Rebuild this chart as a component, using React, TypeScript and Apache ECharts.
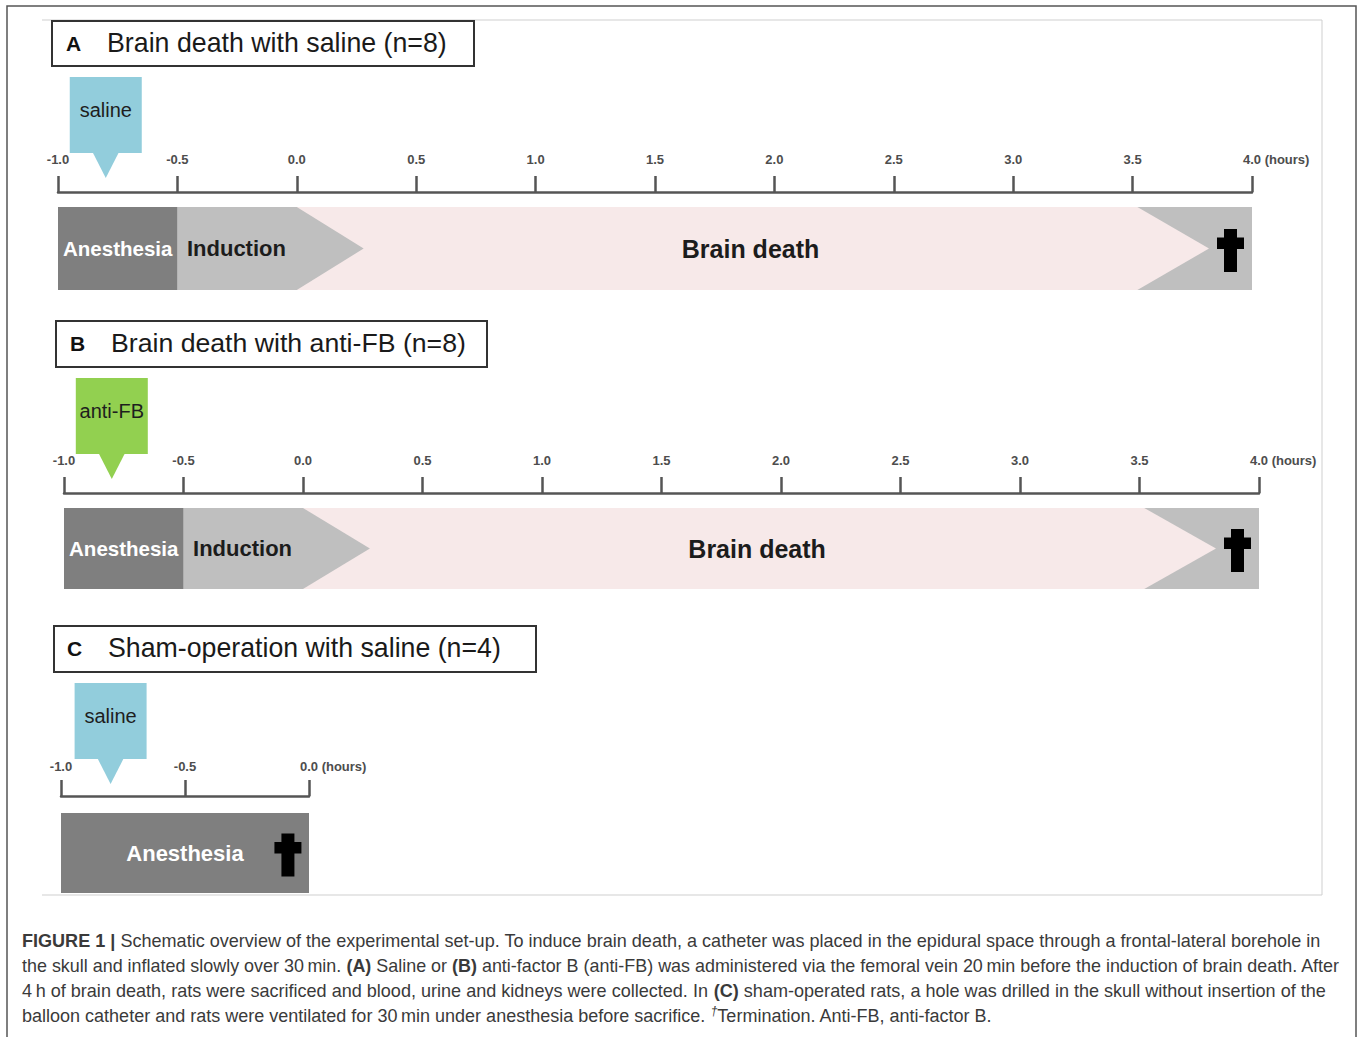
import React, { useEffect, useRef } from 'react';
import * as echarts from 'echarts';

// ---------------- DATA ----------------
const panelLetters = ['A', 'B', 'C'];
const panelTitles = [
  'Brain death with saline (n=8)',
  'Brain death with anti-FB (n=8)',
  'Sham-operation with saline (n=4)',
];
const axisMinHours = [-1.0, -1.0, -1.0];
const axisMaxHours = [4.0, 4.0, 0.0];
const tickStepHours = 0.5;
const axisUnit = '(hours)';

// brain-death protocol (panels A and B), hours
const phaseNamesBD = ['Anesthesia', 'Induction', 'Brain death', ''];
const phaseStartBD = [-1.0, -0.5, 0.0, 3.5];
const phaseEndBD = [-0.5, 0.0, 3.52, 4.0];
const phaseTipBD = [-0.5, 0.28, 3.82, 4.0];
const phaseLabelAtBD = [-0.75, -0.46, 1.9, 0];

// sham protocol (panel C), hours
const phaseNamesSham = ['Anesthesia'];
const phaseStartSham = [-1.0];
const phaseEndSham = [0.0];
const phaseTipSham = [0.0];
const phaseLabelAtSham = [-0.5];

const drugNames = ['saline', 'anti-FB', 'saline'];
const drugAtHours = [-0.8, -0.8, -0.8];
const terminationAtHours = [3.91, 3.91, -0.085];

const captionLines: [string, string][][] = [
  [
    ['b', 'FIGURE 1 |'],
    ['r', ' Schematic overview of the experimental set-up. To induce brain death, a catheter was placed in the epidural space through a frontal-lateral borehole in'],
  ],
  [
    ['r', 'the skull and inflated slowly over 30\u2009min. '],
    ['b', '(A)'],
    ['r', ' Saline or '],
    ['b', '(B)'],
    ['r', ' anti-factor B (anti-FB) was administered via the femoral vein 20\u2009min before the induction of brain death. After'],
  ],
  [
    ['r', '4\u2009h of brain death, rats were sacrificed and blood, urine and kidneys were collected. In '],
    ['b', '(C)'],
    ['r', ' sham-operated rats, a hole was drilled in the skull without insertion of the'],
  ],
  [
    ['r', 'balloon catheter and rats were ventilated for 30\u2009min under anesthesia before sacrifice. '],
    ['s', '\u2020'],
    ['r', 'Termination. Anti-FB, anti-factor B.'],
  ],
];

// ---------------- STYLE / LAYOUT ----------------
const FONT = '"Liberation Sans", Arial, Helvetica, sans-serif';
const NARROW = '"Liberation Sans Narrow", "Liberation Sans", Arial, sans-serif';
const AXIS_COLOR = '#555555';

const phaseStyleBD = [
  { fill: '#7f7f7f', color: '#ffffff', size: 20.5, weight: 'bold', align: 'center' },
  { fill: '#bfbfbf', color: '#1c1c1c', size: 22, weight: 'bold', align: 'left' },
  { fill: '#f7e9e9', color: '#1c1c1c', size: 25, weight: 'bold', align: 'center' },
  { fill: '#bfbfbf', color: '#1c1c1c', size: 22, weight: 'bold', align: 'center' },
];
const phaseStyleSham = [
  { fill: '#7f7f7f', color: '#ffffff', size: 22, weight: 'bold', align: 'center' },
];
const drugColors = ['#92cddc', '#92d050', '#92cddc'];

const panels = [
  { grid: { left: 58, top: 207, width: 1194, height: 83 }, axisOffset: 15, labelMargin: 26, box: { x: 52, y: 21, w: 422, h: 45 }, letterX: 66, titleX: 107, titleW: 340 },
  { grid: { left: 64, top: 508, width: 1195, height: 81 }, axisOffset: 15, labelMargin: 26, box: { x: 56, y: 321, w: 431, h: 46 }, letterX: 70, titleX: 111, titleW: 355 },
  { grid: { left: 61, top: 813, width: 248, height: 80 }, axisOffset: 17, labelMargin: 23, box: { x: 54, y: 626, w: 482, h: 46 }, letterX: 67, titleX: 108, titleW: 393 },
];

const captionX = 22;
const captionY = [941, 966, 991, 1016];
const captionTargetW = [1300, 1318, 1304, 971];

let measureCtx: CanvasRenderingContext2D | null = null;
function measure(text: string, font: string): number {
  if (!measureCtx) {
    const c = document.createElement('canvas');
    measureCtx = c.getContext('2d');
  }
  if (!measureCtx) return text.length * 8;
  measureCtx.font = font;
  return measureCtx.measureText(text).width;
}

const captionRich: any = {
  r: { fontSize: 18, fontFamily: NARROW, color: '#3a3a3a', lineHeight: 22 },
  b: { fontSize: 18, fontFamily: NARROW, fontWeight: 'bold', color: '#111111', lineHeight: 22 },
  s: { fontSize: 12, fontFamily: NARROW, fontStyle: 'italic', color: '#3a3a3a', lineHeight: 22, verticalAlign: 'top' },
};
function richFont(k: string) {
  const r = captionRich[k];
  return [r.fontStyle || 'normal', r.fontWeight || 'normal', r.fontSize + 'px', r.fontFamily].join(' ');
}

function phaseSeries(i: number, names: string[], starts: number[], ends: number[], tips: number[], labelAts: number[], styles: any[]) {
  const order = starts.map((_, k) => k).reverse();
  return {
    type: 'custom',
    xAxisIndex: i,
    yAxisIndex: i,
    silent: true,
    clip: false,
    data: order.map((k) => [starts[k], ends[k], tips[k], labelAts[k], k]),
    renderItem: (_params: any, api: any) => {
      const k = api.value(4);
      const pb = api.coord([api.value(0), 0]);
      const pe = api.coord([api.value(1), 1]);
      const xt = api.coord([api.value(2), 0])[0];
      const xs = pb[0];
      const yb = pb[1];
      const xe = pe[0];
      const yt = pe[1];
      const ym = (yt + yb) / 2;
      const st = styles[k];
      const children: any[] = [
        {
          type: 'polygon',
          shape: { points: [[xs, yt], [xe, yt], [xt, ym], [xe, yb], [xs, yb]] },
          style: { fill: st.fill },
        },
      ];
      if (names[k]) {
        const lx = api.coord([api.value(3), 0])[0];
        children.push({
          type: 'text',
          x: lx,
          y: ym,
          style: {
            text: names[k],
            fill: st.color,
            fontSize: st.size,
            fontWeight: st.weight,
            fontFamily: FONT,
            textAlign: st.align,
            align: st.align,
            textVerticalAlign: 'middle',
            verticalAlign: 'middle',
          },
        });
      }
      return { type: 'group', children };
    },
  };
}

function drugSeries(i: number) {
  return {
    type: 'custom',
    xAxisIndex: i,
    yAxisIndex: i,
    silent: true,
    clip: false,
    data: [[drugAtHours[i], 1]],
    renderItem: (_params: any, api: any) => {
      const p = api.coord([api.value(0), api.value(1)]);
      const x = p[0];
      const top = p[1];
      const fill = drugColors[i];
      return {
        type: 'group',
        children: [
          { type: 'rect', shape: { x: x - 36, y: top - 130, width: 72, height: 76 }, style: { fill } },
          { type: 'polygon', shape: { points: [[x - 13, top - 54.5], [x + 13, top - 54.5], [x, top - 29]] }, style: { fill } },
          {
            type: 'text',
            x,
            y: top - 97,
            style: {
              text: drugNames[i],
              fill: '#1e1e1e',
              fontSize: 20,
              fontFamily: FONT,
              textAlign: 'center',
              align: 'center',
              textVerticalAlign: 'middle',
              verticalAlign: 'middle',
            },
          },
        ],
      };
    },
  };
}

function crossSeries(i: number) {
  return {
    type: 'custom',
    xAxisIndex: i,
    yAxisIndex: i,
    silent: true,
    clip: false,
    data: [[terminationAtHours[i], 0.5]],
    renderItem: (_params: any, api: any) => {
      const p = api.coord([api.value(0), api.value(1)]);
      const x = p[0];
      const yc = p[1] + 2;
      return {
        type: 'group',
        children: [
          { type: 'rect', shape: { x: x - 6.5, y: yc - 21.5, width: 13, height: 43 }, style: { fill: '#000' } },
          { type: 'rect', shape: { x: x - 13.5, y: yc - 13, width: 27, height: 11.5 }, style: { fill: '#000' } },
        ],
      };
    },
  };
}

function buildOption() {
  const unitW = measure(' ' + axisUnit, `bold 13px ${FONT}`);
  const labelBase = { fontSize: 13, fontFamily: FONT, fontWeight: 'bold', color: '#4d4d4d' };

  const grid = panels.map((p) => ({ left: p.grid.left, top: p.grid.top, width: p.grid.width, height: p.grid.height }));
  const xAxis = panels.map((p, i) => ({
    type: 'value',
    gridIndex: i,
    min: axisMinHours[i],
    max: axisMaxHours[i],
    interval: tickStepHours,
    position: 'top',
    offset: p.axisOffset,
    axisLine: { show: true, onZero: false, lineStyle: { color: AXIS_COLOR, width: 2.5 } },
    axisTick: { show: true, inside: false, length: 16, lineStyle: { color: AXIS_COLOR, width: 2.5 } },
    splitLine: { show: false },
    axisLabel: {
      show: true,
      interval: 0,
      margin: p.labelMargin,
      ...labelBase,
      formatter: (v: number) => {
        const s = (Math.abs(v) < 1e-9 ? 0 : v).toFixed(1);
        return Math.abs(v - axisMaxHours[i]) < 1e-9 ? `{vl|${s}}{u| ${axisUnit}}` : `{v|${s}}`;
      },
      rich: {
        v: { ...labelBase },
        vl: { ...labelBase, padding: [0, 0, 0, unitW] },
        u: { ...labelBase },
      },
    },
  }));
  const yAxis = panels.map((_p, i) => ({ type: 'value', gridIndex: i, min: 0, max: 1, show: false }));

  const series: any[] = [
    phaseSeries(0, phaseNamesBD, phaseStartBD, phaseEndBD, phaseTipBD, phaseLabelAtBD, phaseStyleBD),
    phaseSeries(1, phaseNamesBD, phaseStartBD, phaseEndBD, phaseTipBD, phaseLabelAtBD, phaseStyleBD),
    phaseSeries(2, phaseNamesSham, phaseStartSham, phaseEndSham, phaseTipSham, phaseLabelAtSham, phaseStyleSham),
    drugSeries(0),
    drugSeries(1),
    drugSeries(2),
    crossSeries(0),
    crossSeries(1),
    crossSeries(2),
  ];

  const elements: any[] = [
    { type: 'rect', shape: { x: 7, y: 6, width: 1349, height: 1100 }, style: { fill: 'none', stroke: '#555', lineWidth: 1.5 }, silent: true },
    { type: 'line', shape: { x1: 42, y1: 20, x2: 1322, y2: 20 }, style: { stroke: '#cfcfcf', lineWidth: 1 }, silent: true },
    { type: 'line', shape: { x1: 1322, y1: 20, x2: 1322, y2: 895 }, style: { stroke: '#cfcfcf', lineWidth: 1 }, silent: true },
    { type: 'line', shape: { x1: 42, y1: 895, x2: 1322, y2: 895 }, style: { stroke: '#cfcfcf', lineWidth: 1 }, silent: true },
  ];

  panels.forEach((p, i) => {
    const cy = p.box.y + p.box.h / 2;
    const titleSize = 26 * p.titleW / measure(panelTitles[i], `26px ${FONT}`);
    elements.push(
      { type: 'rect', shape: { x: p.box.x, y: p.box.y, width: p.box.w, height: p.box.h }, style: { fill: '#fff', stroke: '#333', lineWidth: 2 }, silent: true },
      {
        type: 'text', x: p.letterX, y: cy - 0.5, silent: true,
        style: { text: panelLetters[i], fill: '#111', fontSize: 21, fontWeight: 'bold', fontFamily: FONT, textAlign: 'left', align: 'left', textVerticalAlign: 'middle', verticalAlign: 'middle' },
      },
      {
        type: 'text', x: p.titleX, y: cy - 1, silent: true,
        style: { text: panelTitles[i], fill: '#1a1a1a', fontSize: titleSize, fontFamily: FONT, textAlign: 'left', align: 'left', textVerticalAlign: 'middle', verticalAlign: 'middle' },
      }
    );
  });

  captionLines.forEach((segs, li) => {
    let natural = 0;
    segs.forEach(([k, t]) => { natural += measure(t, richFont(k)); });
    const sx = captionTargetW[li] / natural;
    elements.push({
      type: 'text',
      x: captionX,
      y: captionY[li],
      scaleX: sx,
      silent: true,
      style: {
        text: segs.map(([k, t]) => `{${k}|${t}}`).join(''),
        rich: captionRich,
        fontSize: 18,
        fontFamily: NARROW,
        fill: '#3a3a3a',
        textAlign: 'left',
        align: 'left',
        textVerticalAlign: 'middle',
        verticalAlign: 'middle',
      },
    });
  });

  return {
    animation: false,
    backgroundColor: '#ffffff',
    grid,
    xAxis,
    yAxis,
    series,
    graphic: { elements },
  };
}

export default function App() {
  const ref = useRef<HTMLDivElement>(null);
  useEffect(() => {
    if (!ref.current) return;
    const chart = echarts.init(ref.current, null, { renderer: 'svg' });
    chart.setOption(buildOption() as any);
    return () => chart.dispose();
  }, []);
  return (
    <div
      ref={ref}
      style={{ position: 'fixed', left: 0, top: 0, width: 1357, height: 1037, background: '#fff' }}
    />
  );
}
